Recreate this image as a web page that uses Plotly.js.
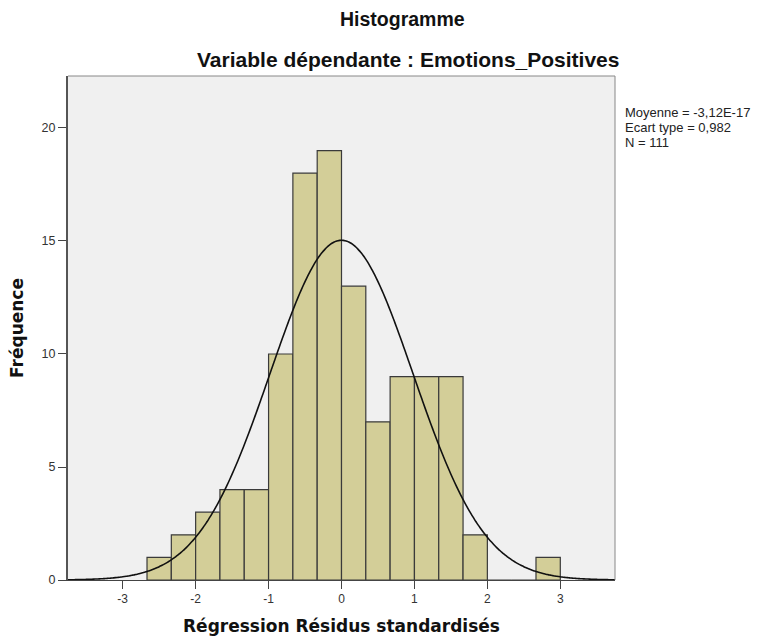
<!DOCTYPE html>
<html>
<head>
<meta charset="utf-8">
<script src="https://cdn.plot.ly/plotly-3.0.1.min.js"></script>
<style>html,body{margin:0;padding:0;background:#fff;}#chart{width:765px;height:644px;}</style>
</head>
<body>
<div id="chart"></div>
<script>
// Histogram bins (centres of bins of width 1/3) and counts
const binCenters = [-2.5, -2.1667, -1.8333, -1.5, -1.1667, -0.8333, -0.5, -0.1667, 0.1667, 0.5, 0.8333, 1.1667, 1.5, 1.8333, 2.1667, 2.5, 2.8333];
const counts     = [1, 2, 3, 4, 4, 10, 18, 19, 13, 7, 9, 9, 9, 2, 0, 0, 1];
const binWidth = 1/3;
// Summary statistics shown on the chart
const statMean = -3.12e-17;
const statSd = 0.982;
const statN = 111;
const statLabels = ["Moyenne = -3,12E-17", "Ecart type = 0,982", "N = 111"];
const xTicks = [-3, -2, -1, 0, 1, 2, 3];
const yTicks = [0, 5, 10, 15, 20];

// Fitted normal curve from the stated mean / sd / N
const curveX = [], curveY = [];
for (let i = 0; i <= 300; i++) {
  const x = -3.75 + 7.5 * i / 300;
  const z = (x - statMean) / statSd;
  curveX.push(x);
  curveY.push(statN * binWidth * Math.exp(-0.5 * z * z) / (statSd * Math.sqrt(2 * Math.PI)));
}

const FONT = "Liberation Sans, Arial, sans-serif";
const FONT_AX = "DejaVu Sans, Verdana, sans-serif";
const traces = [
  {type: 'bar', x: binCenters, y: counts, width: binWidth,
   marker: {color: '#d3ce98', line: {color: '#3a3a3a', width: 1.2}},
   hoverinfo: 'x+y', showlegend: false},
  {type: 'scatter', mode: 'lines', x: curveX, y: curveY,
   line: {color: '#111', width: 1.6, shape: 'spline'}, showlegend: false, hoverinfo: 'skip'}
];

const statAnn = statLabels.map((t, i) => ({
  text: t, xref: 'paper', yref: 'paper', x: 1, xshift: 8, y: 1, yshift: -(36 + 15 * i),
  showarrow: false, xanchor: 'left', yanchor: 'middle', align: 'left',
  font: {family: FONT, size: 13, color: '#222'}
}));

const layout = {
  width: 765, height: 644,
  margin: {l: 68, r: 150, t: 76, b: 64},
  paper_bgcolor: '#ffffff', plot_bgcolor: '#f0f0f0',
  font: {family: FONT, size: 12, color: '#333'},
  bargap: 0,
  xaxis: {range: [-3.75, 3.75], tickvals: xTicks, ticktext: xTicks.map(String),
    ticks: 'outside', ticklen: 8, tickwidth: 1, tickcolor: '#444',
    showgrid: false, zeroline: false, showline: true, linecolor: '#444', linewidth: 1,
    mirror: false, tickfont: {family: FONT, size: 12, color: '#333'},
    title: {text: 'Régression Résidus standardisés', font: {family: FONT_AX, size: 17, color: '#111', weight: 'bold'}, standoff: 14}},
  yaxis: {range: [0, 22.3], tickvals: yTicks, ticktext: yTicks.map(String),
    ticks: 'outside', ticklen: 8, tickwidth: 1, tickcolor: '#444',
    showgrid: false, zeroline: false, showline: true, linecolor: '#555', linewidth: 2,
    tickfont: {family: FONT, size: 12.5, color: '#333'},
    title: {text: 'Fréquence', font: {family: FONT_AX, size: 17, color: '#111', weight: 'bold'}, standoff: 14}},
  shapes: [
    {type: 'line', xref: 'paper', yref: 'paper', x0: 0, x1: 1, y0: 1, y1: 1, line: {color: '#888', width: 1}},
    {type: 'line', xref: 'paper', yref: 'paper', x0: 1, x1: 1, y0: 0, y1: 1, line: {color: '#888', width: 1}}
  ],
  annotations: [
    {text: '<b>Histogramme</b>', xref: 'paper', yref: 'paper', x: 0.6124, y: 1, yshift: 57, showarrow: false,
     xanchor: 'center', yanchor: 'middle', font: {family: FONT, size: 19.5, color: '#111'}},
    {text: '<b>Variable dépendante : Emotions_Positives</b>', xref: 'paper', yref: 'paper', x: 0.6216, y: 1, yshift: 17, showarrow: false,
     xanchor: 'center', yanchor: 'middle', font: {family: FONT, size: 21, color: '#111'}}
  ].concat(statAnn)
};

Plotly.newPlot('chart', traces, layout, {displayModeBar: false, staticPlot: true});
</script>
</body>
</html>
